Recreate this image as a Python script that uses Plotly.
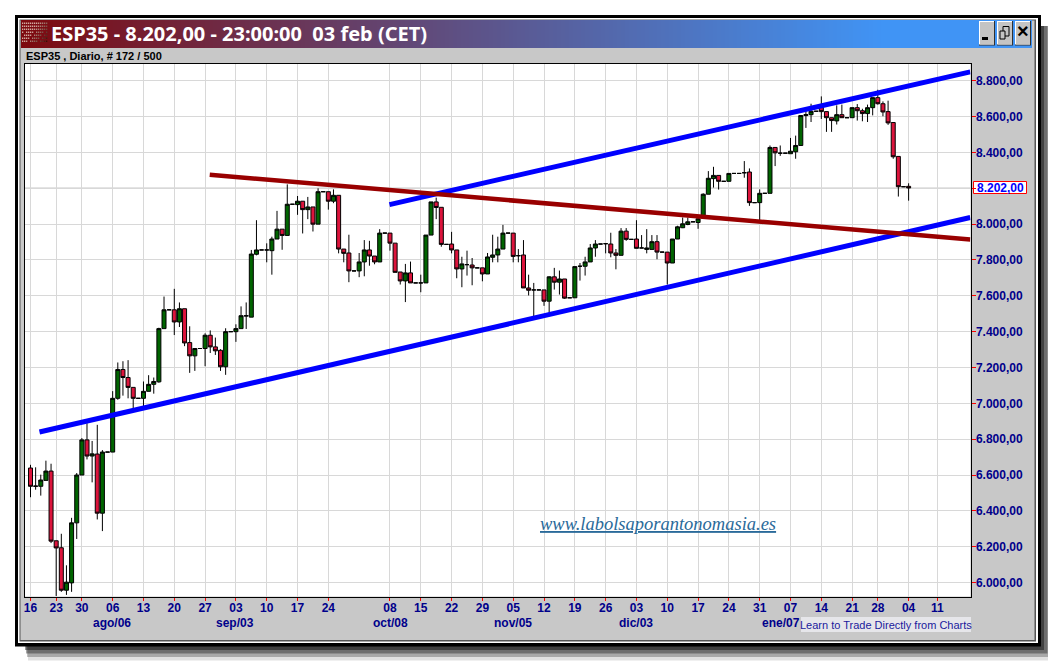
import plotly.graph_objects as go

W, H = 1048, 653   # the page adds an 8px body margin, so the 1056x661 window is filled

open_ = [6639,6539,6537,6570,6622,6233,6194,5957,5998,6333,6600,6796,6706,6717,6387,6728,6728,7028,7189,7144,7089,7028,7028,7067,7106,7120,7417,7522,7522,7454,7528,7339,7265,7306,7306,7380,7315,7296,7204,7400,7400,7417,7487,7481,7832,7856,7856,7852,7917,7972,7937,8111,8109,8128,8081,8096,8000,8181,8181,8128,8161,7861,7839,7739,7739,7789,7856,7822,7789,7950,7950,7894,7733,7683,7728,7672,7672,7672,7939,8124,8094,7887,7889,7856,7750,7774,7772,7756,7756,7722,7815,7828,7861,7950,7950,7824,7828,7644,7633,7633,7633,7570,7706,7676,7694,7589,7589,7765,7765,7789,7867,7889,7891,7889,7839,7826,7961,7915,7917,7867,7859,7859,7902,7844,7844,7783,7917,7980,7998,8013,8009,8046,8167,8254,8272,8239,8239,8283,8283,8287,8291,8120,8120,8172,8172,8428,8396,8396,8393,8404,8439,8606,8611,8630,8657,8628,8594,8576,8611,8594,8594,8650,8633,8617,8650,8706,8672,8628,8567,8378,8209,8211]
high_ = [6657,6643,6602,6680,6663,6233,6272,6096,6361,6611,6806,6889,6790,6880,6739,6728,7068,7228,7235,7241,7089,7028,7122,7157,7144,7422,7596,7522,7639,7563,7528,7430,7306,7306,7391,7407,7367,7302,7419,7400,7441,7541,7563,7856,8022,7856,7893,7930,8074,7972,8222,8111,8157,8128,8152,8096,8200,8181,8181,8194,8161,7861,7941,7739,7839,7911,7907,7822,7972,7950,7950,7894,7733,7778,7791,7672,7718,7939,8124,8148,8094,7887,7957,7856,7818,7852,7811,7756,7756,7839,7941,7930,7996,7950,7950,7861,7911,7718,7672,7633,7633,7709,7756,7741,7694,7589,7763,7783,7818,7889,7911,7889,7891,7952,7861,7978,7978,7915,8022,7939,7972,7939,7939,7844,7844,7917,7991,8037,8037,8013,8048,8172,8296,8320,8272,8239,8283,8283,8283,8352,8311,8120,8194,8172,8439,8428,8439,8396,8481,8494,8606,8639,8672,8630,8713,8628,8594,8663,8667,8594,8650,8670,8644,8667,8706,8750,8685,8689,8567,8378,8209,8228]
low_ = [6476,6518,6485,6570,6220,5925,5948,5931,5948,6243,6600,6687,6559,6352,6287,6728,6728,7020,7043,7028,6972,7028,6981,7067,7054,7115,7417,7522,7381,7426,7319,7170,7181,7306,7207,7281,7270,7181,7159,7400,7343,7417,7415,7481,7826,7856,7787,7718,7917,7857,7937,8111,8052,7948,8028,7959,8000,8181,8081,8117,7837,7787,7676,7739,7704,7709,7768,7776,7789,7950,7852,7731,7663,7565,7672,7672,7620,7672,7939,8028,7874,7887,7837,7698,7648,7713,7659,7756,7681,7722,7787,7787,7861,7950,7787,7787,7644,7602,7481,7633,7544,7500,7635,7607,7583,7589,7589,7685,7713,7789,7818,7889,7837,7815,7748,7826,7907,7915,7865,7867,7837,7859,7804,7844,7663,7783,7917,7978,7994,8013,7974,8046,8167,8204,8193,8239,8239,8283,8283,8259,8102,8120,8018,8172,8172,8324,8381,8396,8393,8365,8439,8537,8570,8630,8587,8515,8515,8556,8594,8594,8594,8578,8574,8570,8607,8667,8602,8554,8365,8154,8209,8131]
close_ = [6537,6537,6572,6622,6231,6193,5957,6002,6333,6600,6796,6706,6718,6387,6728,6728,7028,7189,7144,7089,7028,7028,7067,7106,7122,7417,7522,7522,7454,7528,7337,7265,7306,7306,7380,7315,7293,7204,7400,7400,7417,7489,7489,7833,7856,7856,7856,7917,7972,7937,8111,8111,8128,8081,8096,8000,8181,8181,8128,8161,7861,7837,7739,7739,7789,7856,7822,7789,7950,7950,7894,7731,7683,7728,7672,7672,7672,7939,8124,8093,7887,7887,7856,7750,7778,7774,7756,7756,7722,7817,7828,7861,7950,7950,7820,7824,7644,7631,7633,7633,7570,7706,7676,7694,7587,7589,7763,7765,7789,7867,7889,7889,7891,7839,7826,7961,7915,7915,7865,7867,7867,7902,7844,7844,7783,7917,7985,8002,8013,8013,8030,8167,8256,8272,8239,8239,8283,8283,8283,8287,8120,8120,8172,8172,8428,8398,8396,8396,8407,8439,8606,8611,8630,8630,8628,8594,8578,8611,8594,8594,8650,8633,8617,8650,8706,8672,8626,8565,8376,8209,8209,8202]
bar_index = list(range(len(open_)))

x_tick_pos = [0,5,10,16,22,28,34,40,46,52,58,70,76,82,88,94,100,106,112,118,124,130,136,142,148,154,160,165,171,176.6]
x_tick_txt = ["16","23","30","06","13","20","27","03","10","17","24","08","15","22","29","05","12","19","26","03","10","17","24","31","07","14","21","28","04","11"]
y_tick_val = [6000,6200,6400,6600,6800,7000,7200,7400,7600,7800,8000,8200,8400,8600,8800]
y_tick_txt = ["6.000,00","6.200,00","6.400,00","6.600,00","6.800,00","7.000,00","7.200,00","7.400,00","7.600,00","7.800,00","8.000,00","","8.400,00","8.600,00","8.800,00"]
month_labels = ["ago/06","sep/03","oct/08","nov/05","dic/03","ene/07"]
month_pos = [112,235,390,513,636,781]

lower_channel_x, lower_channel_y = [1.75, 183], [6840, 8037]
upper_channel_x, upper_channel_y = [69.9, 183], [8109, 8850]
resistance_x, resistance_y = [34.9, 183], [8276, 7914]
last_price = 8202

PLOT_L, PLOT_R, PLOT_T, PLOT_B = 24.5, 970.5, 63.5, 596.5
NAVY = "#00008b"
def fx(p): return (p - 8) / W
def fy(p): return 1 - (p - 8) / H

def rect(x0, y0, x1, y1, fill, line=None, opacity=1.0):
    return dict(type="rect", xref="paper", yref="paper", x0=fx(x0), x1=fx(x1), y0=fy(y0), y1=fy(y1),
                fillcolor=fill, opacity=opacity, layer="below",
                line=dict(width=1 if line else 0, color=line or "rgba(0,0,0,0)"))

shapes = []
# drop shadow
for i, op in enumerate([.12, .25, .35, .40]):
    d = 14.5 - i * 3.5
    shapes.append(rect(25 + (3 - i), 26, 1040 + d, 646 + d, "#000000", opacity=op))
# window frame
shapes.append(rect(15, 15, 1041, 646.5, "#000000"))
shapes.append(rect(18, 18, 1038, 643, "#ffffff"))
shapes.append(rect(19.5, 19.5, 1036, 641.5, "#555555"))
shapes.append(rect(20.5, 20.5, 1034.5, 640, "#c8c8c8"))
# title bar gradient
c0, c1 = (125, 10, 15), (64, 148, 245)
step = 4
for px in range(21, 1032, step):
    t = min(1.0, (px - 21) / 860)
    col = "rgb(%d,%d,%d)" % tuple(round(a + (b - a) * t) for a, b in zip(c0, c1))
    shapes.append(rect(px, 20, min(px + step + 0.5, 1032), 48, col))
# title icon
for r in range(7):
    for c in range(13):
        shade = 210 - 14 * max(0, r + c - 7)
        if (r + c) % 5 == 4 and r > 2:
            continue
        shapes.append(rect(22 + c * 2, 22.5 + r * 3, 23.3 + c * 2, 24 + r * 3, "rgb(%d,%d,%d)" % (shade, shade - 40, shade - 50)))
# window buttons
for bx in (979, 997, 1015):
    shapes.append(rect(bx, 21, bx + 16, 45.5, "#303030"))
    shapes.append(rect(bx, 21, bx + 15, 44.5, "#ffffff"))
    shapes.append(rect(bx + 1, 22, bx + 15, 44.5, "#c4c4c4"))
shapes.append(rect(982, 37, 988, 40, "#000000"))
shapes.append(rect(1003, 26.5, 1009, 36, "#c4c4c4", line="#000000"))
shapes.append(rect(1000, 31, 1005, 39, "#c4c4c4", line="#000000"))
# plot area white and price tag
shapes.append(rect(PLOT_L, PLOT_T, PLOT_R, PLOT_B, "#ffffff"))
shapes.append(rect(973.5, 181.5, 1026.5, 193.5, "#ffffff", line="#ff0000"))
shapes.append(rect(801, 617, 971, 632, "#e6e6ea"))
shapes.append(dict(type="line", xref="x", yref="y", x0=-2, x1=184, y0=last_price, y1=last_price,
                   layer="below", line=dict(color="#cfcfcf", width=1)))

fig = go.Figure()
fig.add_trace(go.Candlestick(
    x=bar_index, open=open_, high=high_, low=low_, close=close_,
    increasing=dict(fillcolor="#006400", line=dict(color="#000000", width=1)),
    decreasing=dict(fillcolor="#dc143c", line=dict(color="#000000", width=1)),
    whiskerwidth=0, showlegend=False, hoverinfo="skip"))
for xs, ys, col, lw in [(lower_channel_x, lower_channel_y, "#0000ff", 5),
                        (upper_channel_x, upper_channel_y, "#0000ff", 5),
                        (resistance_x, resistance_y, "#990000", 4.5)]:
    fig.add_trace(go.Scatter(x=xs, y=ys, mode="lines", line=dict(color=col, width=lw),
                             showlegend=False, hoverinfo="skip"))

tickfont = dict(family="Liberation Sans", size=12, color=NAVY, weight="bold")
fig.update_layout(
    width=W, height=H, autosize=False, margin=dict(l=0, r=0, t=0, b=0),
    paper_bgcolor="#ffffff", plot_bgcolor="#ffffff", showlegend=False,
    boxgap=0.22, boxgroupgap=0.0, shapes=shapes,
    xaxis=dict(domain=[fx(PLOT_L), fx(PLOT_R)], range=[-1.17, 183.05], anchor="y",
               rangeslider=dict(visible=False), tickmode="array", tickvals=x_tick_pos, ticktext=x_tick_txt,
               tickangle=0, showgrid=True, gridcolor="#d8d8d8", gridwidth=1, zeroline=False,
               ticks="outside", ticklen=3, tickcolor="#ff0000", tickwidth=1, tickfont=tickfont,
               ticklabelstandoff=-3,
               showline=True, mirror=True, linecolor="#000000", linewidth=1),
    yaxis=dict(domain=[fy(PLOT_B), fy(PLOT_T)], range=[5922, 8896.5], anchor="x", side="right",
               tickmode="array", tickvals=y_tick_val, ticktext=y_tick_txt,
               showgrid=True, gridcolor="#d8d8d8", gridwidth=1, zeroline=False,
               ticks="outside", ticklen=4, tickcolor="#ff0000", tickwidth=1, tickfont=tickfont,
               ticklabelstandoff=-2,
               showline=True, mirror=True, linecolor="#000000", linewidth=1),
)

def note(text, x, y, size, color, family="Liberation Sans", anchor="left", weight="normal"):
    fig.add_annotation(text=text, xref="paper", yref="paper", x=fx(x), y=fy(y), xanchor=anchor, yanchor="middle",
                       showarrow=False, font=dict(family=family, size=size, color=color, weight=weight),
                       borderpad=0, align=anchor)

note("ESP35 - 8.202,00 - 23:00:00&nbsp;&nbsp;03 feb (CET)", 50, 33.5, 20, "#ffffff", "Noto Sans", weight="bold")
note("ESP35 , Diario, # 172 / 500", 24.5, 56, 11, "#000000", weight="bold")
note("8.202,00", 1000, 187.5, 12, "#0000ff", anchor="center", weight="bold")
note("×", 1023, 31, 20, "#000000", anchor="center", weight="bold")
for lab, p in zip(month_labels, month_pos):
    note(lab, p, 622.5, 12, NAVY, anchor="center", weight="bold")
note("Learn to Trade Directly from Charts", 885.5, 624.5, 11, "#1a1a9c", anchor="center")
note("<i><u>www.labolsaporantonomasia.es</u></i>", 657.5, 524, 18.5, "#2a6a9a", "Liberation Serif", anchor="center")

fig.write_html("out.html", config=dict(displayModeBar=False))
